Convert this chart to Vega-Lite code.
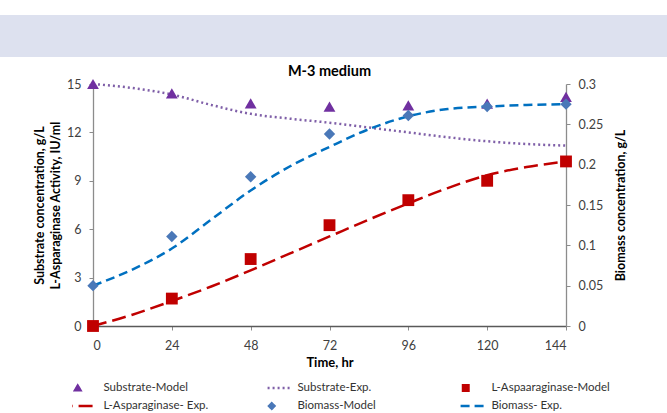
{
  "$schema": "https://vega.github.io/schema/vega-lite/v6.json",
  "background": "white",
  "padding": {"left": 0, "top": 15, "right": 0, "bottom": 0},
  "spacing": 6,
  "datasets": {
    "pts": [
      {"series": "Substrate-Model", "t": 0, "v": 15.0},
      {"series": "Substrate-Model", "t": 24, "v": 14.42},
      {"series": "Substrate-Model", "t": 48, "v": 13.8},
      {"series": "Substrate-Model", "t": 72, "v": 13.6},
      {"series": "Substrate-Model", "t": 96, "v": 13.68},
      {"series": "Substrate-Model", "t": 120, "v": 13.78},
      {"series": "Substrate-Model", "t": 144, "v": 14.2},
      {"series": "L-Aspaaraginase-Model", "t": 0, "v": 0},
      {"series": "L-Aspaaraginase-Model", "t": 24, "v": 1.7},
      {"series": "L-Aspaaraginase-Model", "t": 48, "v": 4.15},
      {"series": "L-Aspaaraginase-Model", "t": 72, "v": 6.25},
      {"series": "L-Aspaaraginase-Model", "t": 96, "v": 7.8},
      {"series": "L-Aspaaraginase-Model", "t": 120, "v": 9.0},
      {"series": "L-Aspaaraginase-Model", "t": 144, "v": 10.2},
      {"series": "Biomass-Model", "t": 0, "v": 0.05},
      {"series": "Biomass-Model", "t": 24, "v": 0.111},
      {"series": "Biomass-Model", "t": 48, "v": 0.185},
      {"series": "Biomass-Model", "t": 72, "v": 0.238},
      {"series": "Biomass-Model", "t": 96, "v": 0.261},
      {"series": "Biomass-Model", "t": 120, "v": 0.272},
      {"series": "Biomass-Model", "t": 144, "v": 0.275}
    ],
    "crv": [
      {"series": "Substrate-Exp.", "t": 0, "v": 15.0},
      {"series": "Substrate-Exp.", "t": 12, "v": 14.75},
      {"series": "Substrate-Exp.", "t": 24, "v": 14.35},
      {"series": "Substrate-Exp.", "t": 36, "v": 13.7},
      {"series": "Substrate-Exp.", "t": 48, "v": 13.15},
      {"series": "Substrate-Exp.", "t": 60, "v": 12.85},
      {"series": "Substrate-Exp.", "t": 72, "v": 12.6},
      {"series": "Substrate-Exp.", "t": 84, "v": 12.3},
      {"series": "Substrate-Exp.", "t": 96, "v": 12.0},
      {"series": "Substrate-Exp.", "t": 108, "v": 11.7},
      {"series": "Substrate-Exp.", "t": 120, "v": 11.45},
      {"series": "Substrate-Exp.", "t": 132, "v": 11.28},
      {"series": "Substrate-Exp.", "t": 144, "v": 11.18},
      {"series": "L-Asparaginase- Exp.", "t": 0, "v": 0},
      {"series": "L-Asparaginase- Exp.", "t": 12, "v": 0.7},
      {"series": "L-Asparaginase- Exp.", "t": 24, "v": 1.55},
      {"series": "L-Asparaginase- Exp.", "t": 36, "v": 2.45},
      {"series": "L-Asparaginase- Exp.", "t": 48, "v": 3.45},
      {"series": "L-Asparaginase- Exp.", "t": 60, "v": 4.5},
      {"series": "L-Asparaginase- Exp.", "t": 72, "v": 5.55},
      {"series": "L-Asparaginase- Exp.", "t": 84, "v": 6.6},
      {"series": "L-Asparaginase- Exp.", "t": 96, "v": 7.6},
      {"series": "L-Asparaginase- Exp.", "t": 108, "v": 8.55},
      {"series": "L-Asparaginase- Exp.", "t": 120, "v": 9.35},
      {"series": "L-Asparaginase- Exp.", "t": 132, "v": 9.85},
      {"series": "L-Asparaginase- Exp.", "t": 144, "v": 10.2},
      {"series": "Biomass- Exp.", "t": 0, "v": 0.05},
      {"series": "Biomass- Exp.", "t": 12, "v": 0.07},
      {"series": "Biomass- Exp.", "t": 24, "v": 0.096},
      {"series": "Biomass- Exp.", "t": 36, "v": 0.132},
      {"series": "Biomass- Exp.", "t": 48, "v": 0.168},
      {"series": "Biomass- Exp.", "t": 60, "v": 0.198},
      {"series": "Biomass- Exp.", "t": 72, "v": 0.222},
      {"series": "Biomass- Exp.", "t": 84, "v": 0.244},
      {"series": "Biomass- Exp.", "t": 96, "v": 0.26},
      {"series": "Biomass- Exp.", "t": 108, "v": 0.269},
      {"series": "Biomass- Exp.", "t": 120, "v": 0.272},
      {"series": "Biomass- Exp.", "t": 132, "v": 0.274},
      {"series": "Biomass- Exp.", "t": 144, "v": 0.275}
    ]
  },
  "vconcat": [
    {
      "width": 667,
      "height": 42,
      "data": {"values": []},
      "mark": {"type": "rule"},
      "encoding": {},
      "view": {"fill": "#dde1ef", "stroke": null}
    },
    {
      "spacing": 20,
      "hconcat": [
        {
          "width": 13,
          "height": 10,
          "data": {"values": []},
          "mark": {"type": "rule"},
          "encoding": {},
          "view": {"stroke": null}
        },
        {
          "width": 473,
          "height": 242,
          "title": {"text": "M-3 medium", "font": "Lato", "fontSize": 14.5, "fontWeight": "bold", "color": "#000000", "offset": -1, "frame": "group"},
          "layer": [
            {
              "layer": [
                {
                  "data": {"name": "crv"},
                  "transform": [{"filter": "datum.series !== 'Biomass- Exp.'"}],
                  "mark": {"type": "line", "interpolate": "monotone", "strokeWidth": 2.5, "clip": false},
                  "encoding": {
                    "x": {"field": "t", "type": "quantitative", "scale": {"domain": [0, 144], "nice": false},
                      "axis": {"values": [0, 24, 48, 72, 96, 120, 144], "title": "Time, hr"}},
                    "y": {"field": "v", "type": "quantitative", "scale": {"domain": [0, 15], "nice": false},
                      "axis": {"values": [0, 3, 6, 9, 12, 15], "orient": "left", "title": ["Substrate concentration, g/L", "L-Asparaginase Activity, IU/ml"]}},
                    "color": {"field": "series", "type": "nominal",
                      "scale": {"domain": ["Substrate-Model", "Substrate-Exp.", "L-Aspaaraginase-Model", "L-Asparaginase- Exp.", "Biomass-Model", "Biomass- Exp."],
                        "range": ["#7030A0", "#7F5FA8", "#C00000", "#C00000", "#4A78B8", "#0070C0"]},
                      "legend": {"values": ["Substrate-Model", "Substrate-Exp.", "L-Aspaaraginase-Model", "L-Asparaginase- Exp.", "Biomass-Model", "Biomass- Exp."],
                        "direction": "horizontal",
                        "encode": {"symbols": {"update": {"stroke": {"scale": "color", "field": "value"}, "fill": {"scale": "color", "field": "value"}}}}}},
                    "strokeDash": {"field": "series", "type": "nominal",
                      "scale": {"domain": ["Substrate-Model", "Substrate-Exp.", "L-Aspaaraginase-Model", "L-Asparaginase- Exp.", "Biomass-Model", "Biomass- Exp."],
                        "range": [[1, 0], [2, 3], [1, 0], [14, 6], [1, 0], [9, 5]]}}
                  }
                },
                {
                  "data": {"name": "pts"},
                  "transform": [{"filter": "datum.series !== 'Biomass-Model'"}],
                  "mark": {"type": "point", "filled": true, "size": 140, "opacity": 1, "clip": false},
                  "encoding": {
                    "x": {"field": "t", "type": "quantitative"},
                    "y": {"field": "v", "type": "quantitative"},
                    "color": {"field": "series", "type": "nominal",
                      "scale": {"domain": ["Substrate-Model", "Substrate-Exp.", "L-Aspaaraginase-Model", "L-Asparaginase- Exp.", "Biomass-Model", "Biomass- Exp."],
                        "range": ["#7030A0", "#7F5FA8", "#C00000", "#C00000", "#4A78B8", "#0070C0"]}},
                    "shape": {"field": "series", "type": "nominal",
                      "scale": {"domain": ["Substrate-Model", "Substrate-Exp.", "L-Aspaaraginase-Model", "L-Asparaginase- Exp.", "Biomass-Model", "Biomass- Exp."],
                        "range": ["triangle-up", "M-7,0H7", "square", "M-7,0H7", "diamond", "M-7,0H7"]}}
                  }
                }
              ]
            },
            {
              "layer": [
                {
                  "data": {"name": "crv"},
                  "transform": [{"filter": "datum.series === 'Biomass- Exp.'"}],
                  "mark": {"type": "line", "interpolate": "monotone", "strokeWidth": 2.5, "clip": false},
                  "encoding": {
                    "x": {"field": "t", "type": "quantitative"},
                    "y": {"field": "v", "type": "quantitative", "scale": {"domain": [0, 0.3], "nice": false},
                      "axis": {"values": [0, 0.05, 0.1, 0.15, 0.2, 0.25, 0.3], "format": "~g", "orient": "right", "title": "Biomass concentration, g/L", "titleAngle": 270}},
                    "color": {"field": "series", "type": "nominal",
                      "scale": {"domain": ["Substrate-Model", "Substrate-Exp.", "L-Aspaaraginase-Model", "L-Asparaginase- Exp.", "Biomass-Model", "Biomass- Exp."],
                        "range": ["#7030A0", "#7F5FA8", "#C00000", "#C00000", "#4A78B8", "#0070C0"]}},
                    "strokeDash": {"field": "series", "type": "nominal",
                      "scale": {"domain": ["Substrate-Model", "Substrate-Exp.", "L-Aspaaraginase-Model", "L-Asparaginase- Exp.", "Biomass-Model", "Biomass- Exp."],
                        "range": [[1, 0], [2, 3], [1, 0], [14, 6], [1, 0], [9, 5]]}}
                  }
                },
                {
                  "data": {"name": "pts"},
                  "transform": [{"filter": "datum.series === 'Biomass-Model'"}],
                  "mark": {"type": "point", "filled": true, "size": 130, "opacity": 1, "clip": false},
                  "encoding": {
                    "x": {"field": "t", "type": "quantitative"},
                    "y": {"field": "v", "type": "quantitative"},
                    "color": {"field": "series", "type": "nominal",
                      "scale": {"domain": ["Substrate-Model", "Substrate-Exp.", "L-Aspaaraginase-Model", "L-Asparaginase- Exp.", "Biomass-Model", "Biomass- Exp."],
                        "range": ["#7030A0", "#7F5FA8", "#C00000", "#C00000", "#4A78B8", "#0070C0"]}},
                    "shape": {"field": "series", "type": "nominal",
                      "scale": {"domain": ["Substrate-Model", "Substrate-Exp.", "L-Aspaaraginase-Model", "L-Asparaginase- Exp.", "Biomass-Model", "Biomass- Exp."],
                        "range": ["triangle-up", "M-7,0H7", "square", "M-7,0H7", "diamond", "M-7,0H7"]}}
                  }
                }
              ]
            }
          ],
          "resolve": {"scale": {"y": "independent"}}
        }
      ]
    }
  ],
  "config": {
    "view": {"stroke": null},
    "font": "Lato",
    "axis": {
      "grid": false,
      "domainColor": "#8c8c8c",
      "domainWidth": 1.3,
      "tickColor": "#8c8c8c",
      "tickSize": 4,
      "labelFont": "Lato",
      "labelFontSize": 12.5,
      "labelColor": "#404040",
      "labelPadding": 8,
      "titleFont": "Lato",
      "titleFontSize": 12.5,
      "titleFontWeight": "bold",
      "titleColor": "#000000"
    },
    "axisX": {"domainColor": "#595959", "domainWidth": 1.6, "labelPadding": 9, "titlePadding": 5, "titleFontSize": 13},
    "axisLeft": {"titlePadding": 4, "titleLineHeight": 16},
    "axisRight": {"titlePadding": 25},
    "legend": {
      "orient": "none",
      "direction": "horizontal",
      "legendX": 72,
      "legendY": 366,
      "title": null,
      "columns": 3,
      "gridAlign": "all",
      "columnPadding": 44,
      "rowPadding": 4,
      "clipHeight": 14,
      "symbolSize": 30,
      "symbolStrokeWidth": 2.5,
      "labelOffset": 20,
      "labelFont": "Lato",
      "labelFontSize": 11.5,
      "labelColor": "#333333",
      "padding": 0,
      "symbolOpacity": 1
    }
  }
}
